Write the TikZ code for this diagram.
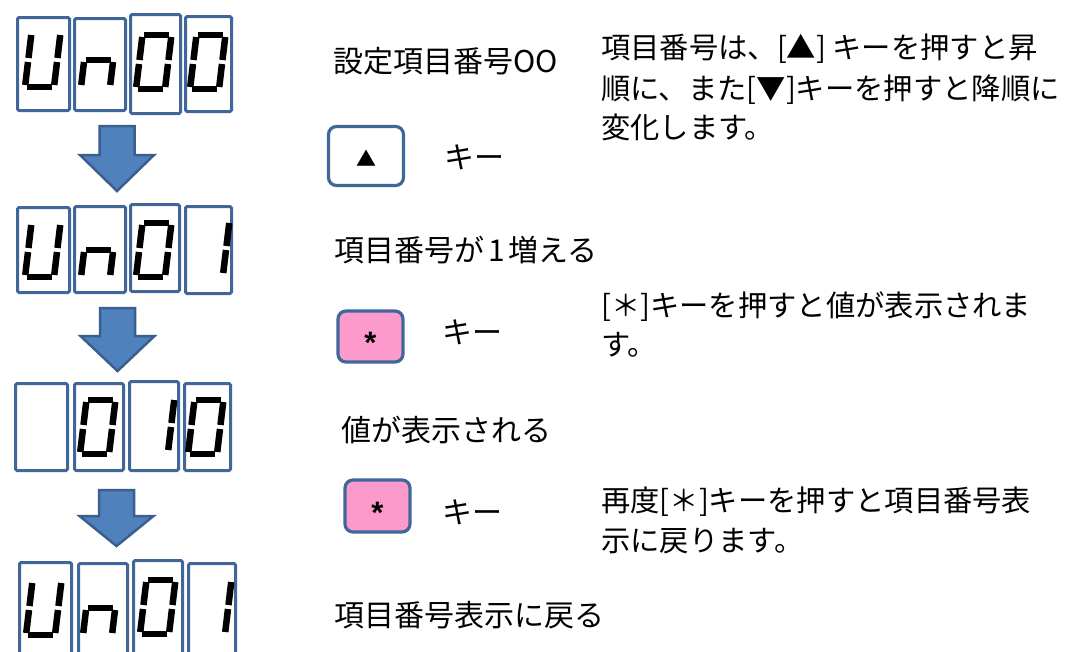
\documentclass[tikz,border=0pt]{standalone}
\usepackage{fontspec}
\setmainfont{Noto Sans CJK JP}
\newfontfamily\astfont{Liberation Sans}
\usetikzlibrary{calc}
\definecolor{boxblue}{HTML}{41679A}
\definecolor{arrowfill}{HTML}{4F81BD}
\definecolor{arrowline}{HTML}{3A5F8F}
\definecolor{keypink}{HTML}{FB9ACB}
\tikzset{
  dbox/.style={draw=boxblue, line width=3pt, rounded corners=1.5pt, inner sep=0pt, fill=white},
  seg/.style={line width=6.5pt, black},
  keybox/.style={draw=boxblue, line width=3.2pt, rounded corners=8pt, inner sep=0pt},
  lbl/.style={inner sep=0pt, anchor=base west, font=\fontsize{30}{40}\selectfont},
  expl/.style={inner sep=0pt, anchor=base west, font=\fontsize{29.3}{40}\selectfont},
  astlbl/.style={inner sep=0pt, font=\astfont\bfseries\fontsize{31}{31}\selectfont},
  blockarrow/.style={fill=arrowfill, draw=arrowline, line width=2.5pt, line join=miter},
}
% seven-segment pieces (local units, y up)
\newcommand\dsega{\draw[seg] (2,54)--(27,54);}
\newcommand\dsegb{\draw[seg] (29,52)--(29,29);}
\newcommand\dsegc{\draw[seg] (29,25)--(29,2);}
\newcommand\dsegd{\draw[seg] (2,0)--(27,0);}
\newcommand\dsege{\draw[seg] (0,25)--(0,2);}
\newcommand\dsegf{\draw[seg] (0,52)--(0,29);}
\newcommand\dsegg{\draw[seg] (2,27)--(27,27);}
\newcommand\sdigit[3]{%
  \begin{scope}[shift={(#1,-#2)}, xslant=0.12]
    \foreach \s in {#3}{\csname dseg\s\endcsname}
  \end{scope}}
\newcommand\blockarr[3]{% top, tip, head length
  \draw[blockarrow] ($(#1)+(-17.5,0)$) -- ($(#1)+(17.5,0)$) -- ($(#2)+(17.5,#3)$)
    -- ($(#2)+(37,#3)$) -- (#2) -- ($(#2)+(-37,#3)$) -- ($(#2)+(-17.5,#3)$) -- cycle;}
\begin{document}
\begin{tikzpicture}[x=1pt, y=1pt]
\clip (0,0) rectangle (1066,-651);
\fill[white] (0,0) rectangle (1066,-651);

% ---- row 1 : Un00
\node[dbox, minimum width=52pt, minimum height=93pt] (r1a) at (43.5,-64) {};
\node[dbox, minimum width=51pt, minimum height=92pt] (r1b) at (100,-64.5) {};
\node[dbox, minimum width=50pt, minimum height=99pt] (r1c) at (155.5,-64) {};
\node[dbox, minimum width=46pt, minimum height=95pt] (r1d) at (208.5,-64) {};
\sdigit{25}{87}{b,c,d,e,f}
\sdigit{81}{87}{c,e,g}
\sdigit{136}{89}{a,b,c,d,e,f}
\sdigit{190}{89}{a,b,c,d,e,f}

% ---- row 2 : Un01
\node[dbox, minimum width=52pt, minimum height=85pt] (r2a) at (43.5,-250) {};
\node[dbox, minimum width=51pt, minimum height=86pt] (r2b) at (100,-249.5) {};
\node[dbox, minimum width=49pt, minimum height=87pt] (r2c) at (155,-248) {};
\node[dbox, minimum width=46pt, minimum height=87pt] (r2d) at (208.5,-250) {};
\sdigit{25}{277}{b,c,d,e,f}
\sdigit{81}{277}{c,e,g}
\sdigit{136}{277}{a,b,c,d,e,f}
\sdigit{194}{275}{b,c}

% ---- row 3 :  010
\node[dbox, minimum width=52pt, minimum height=87pt] (r3a) at (41.5,-427) {};
\node[dbox, minimum width=49pt, minimum height=87pt] (r3b) at (99,-427) {};
\node[dbox, minimum width=49pt, minimum height=89pt] (r3c) at (154,-426) {};
\node[dbox, minimum width=46pt, minimum height=87pt] (r3d) at (207.5,-427) {};
\sdigit{80}{454}{a,b,c,d,e,f}
\sdigit{139}{452}{b,c}
\sdigit{188}{454}{a,b,c,d,e,f}

% ---- row 4 : Un01
\node[dbox, minimum width=52pt, minimum height=115pt] (r4a) at (45.5,-620) {};
\node[dbox, minimum width=49pt, minimum height=115pt] (r4b) at (103,-621) {};
\node[dbox, minimum width=49pt, minimum height=118pt] (r4c) at (158,-619.5) {};
\node[dbox, minimum width=47pt, minimum height=115pt] (r4d) at (212,-621) {};
\sdigit{26}{635}{b,c,d,e,f}
\sdigit{83}{635}{c,e,g}
\sdigit{140}{634}{a,b,c,d,e,f}
\sdigit{196}{634}{b,c}

% ---- block arrows
\coordinate (a1top) at (117,-126);
\coordinate (a1tip) at (117,-191);
\coordinate (a2top) at (117.5,-308);
\coordinate (a2tip) at (117.5,-371);
\coordinate (a3top) at (116.5,-490);
\coordinate (a3tip) at (116.5,-546);
\blockarr{a1top}{a1tip}{36}
\blockarr{a2top}{a2tip}{35}
\blockarr{a3top}{a3tip}{30}

% ---- keys
\node[keybox, fill=white, minimum width=75pt, minimum height=59pt] (kup) at (366,-156) {};
\node[inner sep=0pt, font=\fontsize{20}{20}\selectfont] (kupl) at (366,-158) {▲};
\node[keybox, fill=keypink, minimum width=65pt, minimum height=51pt] (ks1) at (370.5,-336.5) {};
\node[astlbl] (ks1l) at (370.5,-343) {*};
\node[keybox, fill=keypink, minimum width=65pt, minimum height=52pt] (ks2) at (377.5,-506) {};
\node[astlbl] (ks2l) at (377.5,-513) {*};

\node[lbl] (kupk) at (444,-168) {キー};
\node[lbl] (ks1k) at (442,-343) {キー};
\node[lbl] (ks2k) at (442,-523) {キー};

% ---- left labels
\node[lbl] (l1) at (333,-72) {設定項目番号OO};
\node[lbl] (l2) at (334,-261) {項目番号が\hspace{4pt}1\hspace{4pt}増える};
\node[lbl] (l3) at (341,-441) {値が表示される};
\node[lbl] (l4) at (334,-626) {項目番号表示に戻る};

% ---- right explanations
\node[expl] (e1a) at (601,-58) {項目番号は、[▲] キーを押すと昇};
\node[expl] (e1b) at (601,-99) {順に、また[▼]キーを押すと降順に};
\node[expl] (e1c) at (601,-138) {変化します。};
\node[expl] (e2a) at (601,-316) {[＊]キーを押すと値が表示されま};
\node[expl] (e2b) at (601,-355) {す。};
\node[expl] (e3a) at (601,-511) {再度[＊]キーを押すと項目番号表};
\node[expl] (e3b) at (601,-551) {示に戻ります。};
\end{tikzpicture}
\end{document}
